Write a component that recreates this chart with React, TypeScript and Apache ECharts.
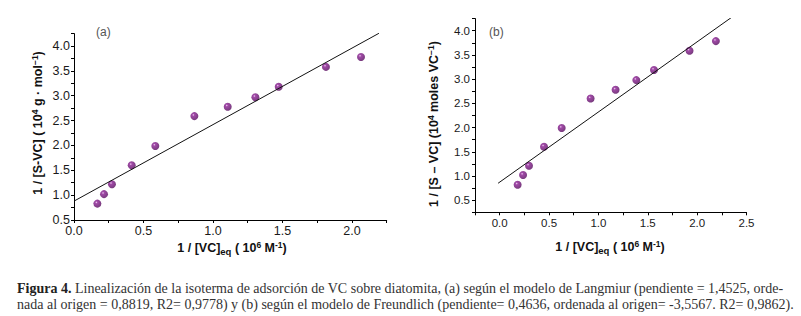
import React, { useEffect, useRef } from 'react';
import * as echarts from 'echarts';

// Panel (a) – Langmuir
const xA = [0.168, 0.216, 0.273, 0.415, 0.585, 0.866, 1.106, 1.305, 1.473, 1.813, 2.065];
const yA = [0.83, 1.02, 1.22, 1.6, 1.99, 2.59, 2.78, 2.97, 3.18, 3.58, 3.78];
const fitAx = [0, 2.194];
const fitAy = [0.88, 4.256];

// Panel (b) – Freundlich
const xB = [0.182, 0.237, 0.297, 0.449, 0.628, 0.921, 1.174, 1.384, 1.563, 1.923, 2.19];
const yB = [0.82, 1.02, 1.21, 1.605, 1.99, 2.6, 2.78, 2.98, 3.19, 3.585, 3.785];
const fitBx = [-0.016, 2.345];
const fitBy = [0.85, 4.27];

const captionLine1 =
  '{b|Figura 4.} Linealización de la isoterma de adsorción de VC sobre diatomita, (a) según el modelo de Langmiur (pendiente = 1,4525, orde-';
const captionLine2 =
  'nada al origen = 0,8819, R2= 0,9778) y (b) según el modelo de Freundlich (pendiente= 0,4636, ordenada al origen= -3,5567. R2= 0,9862).';

const SANS = 'Liberation Sans, Arial, sans-serif';
const SERIF = 'Liberation Serif, Times New Roman, serif';
const CAP_FS = 14;

const fmt = (v: number) =>
  Math.abs(v * 2 - Math.round(v * 2)) < 1e-6 ? v.toFixed(1) : '';

const ballColor = {
  type: 'radial',
  x: 0.38,
  y: 0.35,
  r: 0.7,
  colorStops: [
    { offset: 0, color: '#edc6f0' },
    { offset: 0.22, color: '#8a1d92' },
    { offset: 1, color: '#520859' },
  ],
};

function axis(min: number, max: number, fontSize: number, margin: number, idx: number) {
  return {
    type: 'value',
    gridIndex: idx,
    min,
    max,
    interval: 0.25,
    axisLine: { show: true, onZero: false, lineStyle: { color: '#000', width: 1 } },
    axisTick: { show: true, inside: false, length: 3, lineStyle: { color: '#000', width: 1 } },
    splitLine: { show: false },
    axisLabel: {
      fontFamily: SANS,
      fontSize,
      color: '#1a1a1a',
      margin,
      formatter: fmt,
      showMinLabel: true,
      showMaxLabel: true,
    },
  };
}

function richTitle(fs: number) {
  return {
    sub: { fontFamily: SANS, fontWeight: 'bold', fontSize: fs - 3, fill: '#111', padding: [7, 0, 0, 0] },
    sup: { fontFamily: SANS, fontWeight: 'bold', fontSize: fs - 4, fill: '#111', padding: [0, 0, 7, 0] },
  };
}

export default function App() {
  const ref = useRef<HTMLDivElement>(null);
  useEffect(() => {
    if (!ref.current) return;
    const chart = echarts.init(ref.current, undefined, { renderer: 'svg' });
    const ptsA = xA.map((x, i) => [x, yA[i]]);
    const ptsB = xB.map((x, i) => [x, yB[i]]);
    const lineA = fitAx.map((x, i) => [x, fitAy[i]]);
    const lineB = fitBx.map((x, i) => [x, fitBy[i]]);
    chart.setOption({
      animation: false,
      backgroundColor: '#fff',
      grid: [
        { left: 74, top: 33.6, width: 312.7, height: 186.4 },
        { left: 475, top: 18.6, width: 271.5, height: 193.7 },
      ],
      xAxis: [axis(0, 2.25, 12.5, 4, 0), axis(-0.25, 2.5, 11.5, 5, 1)],
      yAxis: [axis(0.5, 4.25, 12.5, 4, 0), axis(0.25, 4.25, 11.5, 5, 1)],
      series: [
        {
          type: 'line',
          xAxisIndex: 0,
          yAxisIndex: 0,
          data: lineA,
          symbol: 'none',
          lineStyle: { color: '#111', width: 1 },
          silent: true,
        },
        {
          type: 'scatter',
          xAxisIndex: 0,
          yAxisIndex: 0,
          data: ptsA,
          symbol: 'circle',
          symbolSize: 8,
          itemStyle: { color: ballColor },
        },
        {
          type: 'line',
          xAxisIndex: 1,
          yAxisIndex: 1,
          data: lineB,
          symbol: 'none',
          lineStyle: { color: '#111', width: 1 },
          silent: true,
        },
        {
          type: 'scatter',
          xAxisIndex: 1,
          yAxisIndex: 1,
          data: ptsB,
          symbol: 'circle',
          symbolSize: 8,
          itemStyle: { color: ballColor },
        },
      ],
      graphic: [
        {
          type: 'text',
          x: 96,
          y: 31.7,
          style: { text: '(a)', fontFamily: SANS, fontSize: 12, fill: '#555', verticalAlign: 'middle' },
        },
        {
          type: 'text',
          x: 489,
          y: 31.7,
          style: { text: '(b)', fontFamily: SANS, fontSize: 12, fill: '#555', verticalAlign: 'middle' },
        },
        {
          type: 'text',
          x: 232,
          y: 248,
          style: {
            text: '1 / [VC]{sub|eq} ( 10{sup|6} M{sup|-1})',
            fontFamily: SANS,
            fontWeight: 'bold',
            fontSize: 12.5,
            fill: '#111',
            align: 'center',
            verticalAlign: 'middle',
            rich: richTitle(12.5),
          },
        },
        {
          type: 'text',
          x: 610,
          y: 247,
          style: {
            text: '1 / [VC]{sub|eq} ( 10{sup|6} M{sup|-1})',
            fontFamily: SANS,
            fontWeight: 'bold',
            fontSize: 12.5,
            fill: '#111',
            align: 'center',
            verticalAlign: 'middle',
            rich: richTitle(12.5),
          },
        },
        {
          type: 'text',
          x: 38,
          y: 123,
          rotation: Math.PI / 2,
          style: {
            text: '1 / [S-VC] ( 10{sup|4} g · mol{sup|−1})',
            fontFamily: SANS,
            fontWeight: 'bold',
            fontSize: 12.5,
            fill: '#111',
            align: 'center',
            verticalAlign: 'middle',
            rich: richTitle(12.5),
          },
        },
        {
          type: 'text',
          x: 434,
          y: 124,
          rotation: Math.PI / 2,
          style: {
            text: '1 / [S – VC] (10{sup|4} moles VC{sup|−1})',
            fontFamily: SANS,
            fontWeight: 'bold',
            fontSize: 12.5,
            fill: '#111',
            align: 'center',
            verticalAlign: 'middle',
            rich: richTitle(12.5),
          },
        },
        {
          type: 'text',
          x: 17,
          y: 288,
          style: {
            text: captionLine1,
            fontFamily: SERIF,
            fontSize: CAP_FS,
            fill: '#333',
            verticalAlign: 'middle',
            rich: {
              b: { fontFamily: SERIF, fontWeight: 'bold', fontSize: CAP_FS, fill: '#222' },
            },
          },
        },
        {
          type: 'text',
          x: 17,
          y: 304,
          style: {
            text: captionLine2,
            fontFamily: SERIF,
            fontSize: CAP_FS,
            fill: '#333',
            verticalAlign: 'middle',
          },
        },
      ],
    });
    return () => chart.dispose();
  }, []);
  return (
    <div
      ref={ref}
      style={{ position: 'absolute', left: 0, top: 0, width: 801, height: 316, background: '#fff' }}
    />
  );
}
